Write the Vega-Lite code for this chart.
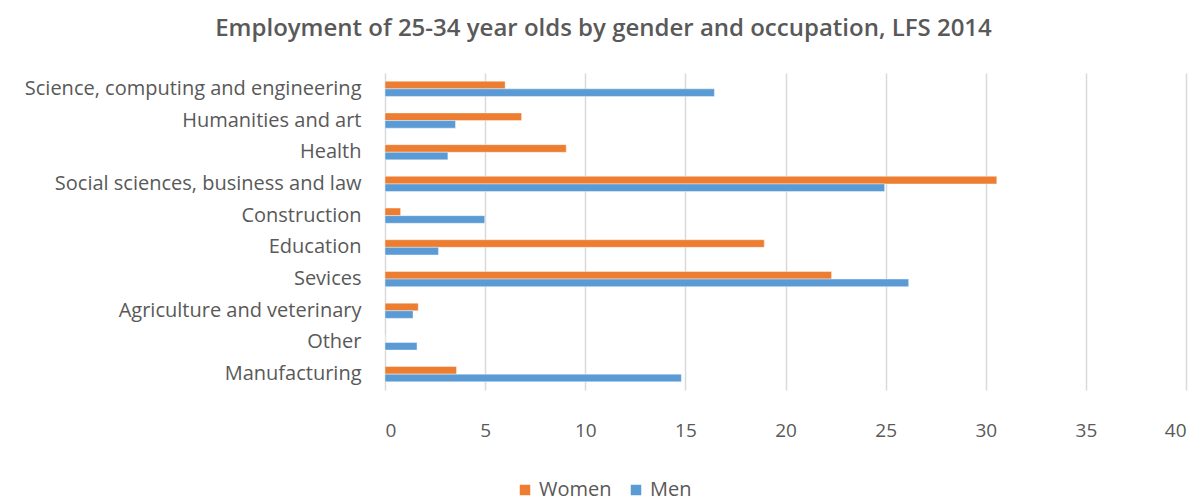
{
  "$schema": "https://vega.github.io/schema/vega-lite/v6.json",
  "width": 801,
  "height": 317,
  "autosize": {"type": "none"},
  "padding": {"left": 385, "top": 73, "right": 15, "bottom": 112},
  "background": "white",
  "title": {
    "text": "Employment of 25-34 year olds by gender and occupation, LFS 2014",
    "font": "Open Sans",
    "fontSize": 24,
    "fontWeight": 600,
    "color": "#595959",
    "anchor": "middle",
    "dx": -182,
    "offset": 32
  },
  "data": {
    "values": [
      {"occupation": "Science, computing and engineering", "gender": "Women", "value": 6.0},
      {"occupation": "Science, computing and engineering", "gender": "Men", "value": 16.45},
      {"occupation": "Humanities and art", "gender": "Women", "value": 6.82},
      {"occupation": "Humanities and art", "gender": "Men", "value": 3.52},
      {"occupation": "Health", "gender": "Women", "value": 9.05},
      {"occupation": "Health", "gender": "Men", "value": 3.14},
      {"occupation": "Social sciences,  business and law", "gender": "Women", "value": 30.55},
      {"occupation": "Social sciences,  business and law", "gender": "Men", "value": 24.95},
      {"occupation": "Construction", "gender": "Women", "value": 0.78},
      {"occupation": "Construction", "gender": "Men", "value": 4.98},
      {"occupation": "Education", "gender": "Women", "value": 18.94},
      {"occupation": "Education", "gender": "Men", "value": 2.67},
      {"occupation": "Sevices", "gender": "Women", "value": 22.3},
      {"occupation": "Sevices", "gender": "Men", "value": 26.15},
      {"occupation": "Agriculture and veterinary", "gender": "Women", "value": 1.66},
      {"occupation": "Agriculture and veterinary", "gender": "Men", "value": 1.4},
      {"occupation": "Other", "gender": "Women", "value": 0},
      {"occupation": "Other", "gender": "Men", "value": 1.6},
      {"occupation": "Manufacturing", "gender": "Women", "value": 3.57},
      {"occupation": "Manufacturing", "gender": "Men", "value": 14.8}
    ]
  },
  "mark": {"type": "bar", "stroke": "white", "strokeOpacity": 0.4, "strokeWidth": 1},
  "encoding": {
    "y": {
      "field": "occupation",
      "type": "nominal",
      "sort": null,
      "title": null,
      "scale": {"paddingInner": 0.52, "paddingOuter": 0.26},
      "axis": {
        "domain": false,
        "ticks": false,
        "labelFont": "Open Sans",
        "labelFontSize": 20,
        "labelColor": "#595959",
        "labelPadding": 24,
        "labelLimit": 400
      }
    },
    "yOffset": {
      "field": "gender",
      "type": "nominal",
      "sort": ["Women", "Men"]
    },
    "x": {
      "field": "value",
      "type": "quantitative",
      "title": null,
      "scale": {"domain": [0, 40], "nice": false},
      "axis": {
        "values": [0, 5, 10, 15, 20, 25, 30, 35, 40],
        "domain": false,
        "ticks": false,
        "grid": true,
        "gridColor": "#d9d9d9",
        "gridWidth": 1.5,
        "labelFont": "Open Sans",
        "labelFontSize": 19,
        "labelColor": "#595959",
        "labelPadding": 31
      }
    },
    "color": {
      "field": "gender",
      "type": "nominal",
      "title": null,
      "scale": {"domain": ["Women", "Men"], "range": ["#ED7D31", "#5B9BD5"]},
      "legend": {
        "orient": "none",
        "legendX": 130,
        "legendY": 407,
        "direction": "horizontal",
        "symbolType": "square",
        "symbolSize": 110,
        "symbolStrokeWidth": 0,
        "labelFont": "Open Sans",
        "labelFontSize": 20,
        "labelColor": "#595959",
        "columnPadding": 14,
        "labelOffset": 4
      }
    }
  },
  "config": {"view": {"stroke": null}}
}
